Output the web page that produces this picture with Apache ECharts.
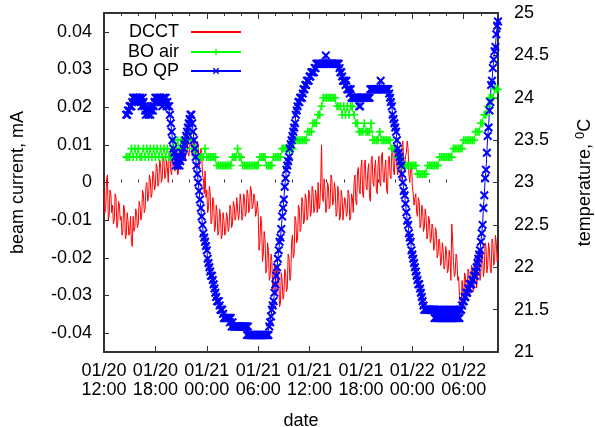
<!DOCTYPE html>
<html>
<head>
<meta charset="utf-8">
<script src="https://cdn.jsdelivr.net/npm/echarts@6/dist/echarts.min.js"></script>
<style>
  html, body { margin: 0; padding: 0; background: #fff; }
  #chart { width: 595px; height: 427px; }
</style>
</head>
<body>
<div id="chart"></div>
<script>
// time axis: hours since 01/20 12:00
const dateLabels = ['01/20\n12:00', '01/20\n18:00', '01/21\n00:00', '01/21\n06:00',
  '01/21\n12:00', '01/21\n18:00', '01/22\n00:00', '01/22\n06:00'];
const currentTicks = [-0.04, -0.03, -0.02, -0.01, 0, 0.01, 0.02, 0.03, 0.04];
const currentLabels = ['-0.04', '-0.03', '-0.02', '-0.01', '0', '0.01', '0.02', '0.03', '0.04'];
const legendNames = ['DCCT', 'BO air', 'BO QP'];

// DCCT beam current, mA (every 0.1 h from hour 0)
const dcctStart = 0, dcctStep = 0.1;
const dcct = [
  -0.002, -0.008, -0.007, 0.001, 0.002, -0.010, -0.009, -0.002, -0.003, -0.008,
  -0.006, -0.011, -0.010, -0.003, -0.004, -0.012, -0.011, -0.005, -0.006, -0.010,
  -0.009, -0.014, -0.013, -0.006, -0.007, -0.015, -0.014, -0.008, -0.010, -0.014,
  -0.013, -0.009, -0.016, -0.017, -0.009, -0.013, -0.012, -0.007, -0.008, -0.012,
  -0.011, -0.005, -0.006, -0.010, -0.009, -0.002, -0.003, -0.008, -0.007, -0.001,
  0.000, -0.005, -0.004, 0.002, 0.001, -0.004, -0.003, 0.003, 0.002, -0.002,
  -0.001, 0.005, 0.004, -0.001, 0.000, 0.006, 0.005, 0.000, 0.001, 0.007,
  0.006, 0.001, 0.002, 0.006, 0.004, 0.000, 0.007, 0.008, 0.003, 0.002,
  0.008, 0.009, 0.004, 0.003, 0.007, 0.008, 0.002, 0.003, 0.009, 0.010,
  0.006, 0.005, 0.010, 0.011, 0.007, 0.006, 0.011, 0.012, 0.008, 0.007,
  0.009, 0.013, 0.012, 0.007, 0.008, 0.012, 0.011, 0.006, 0.007, 0.011,
  0.010, 0.004, 0.005, 0.009, 0.008, 0.002, 0.001, -0.003, 0.003, -0.004,
  -0.002, -0.008, -0.007, -0.001, -0.003, -0.011, -0.010, -0.004, -0.005, -0.013,
  -0.012, -0.006, -0.008, -0.014, -0.013, -0.007, -0.009, -0.015, -0.014, -0.008,
  -0.010, -0.014, -0.013, -0.008, -0.009, -0.013, -0.012, -0.006, -0.007, -0.012,
  -0.011, -0.005, -0.006, -0.010, -0.009, -0.004, -0.004, -0.010, -0.008, -0.003,
  -0.005, -0.010, -0.009, -0.003, -0.004, -0.009, -0.008, -0.002, -0.003, -0.008,
  -0.007, -0.001, -0.002, -0.007, -0.006, -0.003, -0.004, -0.009, -0.008, -0.005,
  -0.008, -0.018, -0.016, -0.009, -0.011, -0.021, -0.019, -0.013, -0.015, -0.024,
  -0.023, -0.016, -0.018, -0.026, -0.025, -0.019, -0.021, -0.029, -0.027, -0.022,
  -0.023, -0.030, -0.029, -0.022, -0.025, -0.033, -0.032, -0.024, -0.026, -0.031,
  -0.030, -0.023, -0.024, -0.029, -0.028, -0.019, -0.020, -0.026, -0.025, -0.016,
  -0.014, -0.020, -0.019, -0.009, -0.010, -0.016, -0.015, -0.006, -0.007, -0.013,
  -0.012, -0.004, -0.005, -0.011, -0.010, -0.003, -0.004, -0.010, -0.009, -0.002,
  -0.003, -0.009, -0.008, -0.001, -0.002, -0.008, -0.007, -0.002, -0.004, -0.008,
  0.000, -0.007, -0.006, 0.000, 0.010, -0.004, -0.005, 0.001, -0.002, -0.008,
  -0.007, 0.000, -0.001, -0.007, -0.006, 0.002, 0.001, -0.006, -0.005, 0.000,
  -0.002, -0.009, -0.008, -0.001, -0.003, -0.010, -0.009, -0.002, -0.004, -0.010,
  -0.010, -0.004, -0.005, -0.009, -0.008, -0.002, -0.003, -0.010, -0.009, -0.003,
  -0.004, -0.008, 0.000, 0.002, -0.005, -0.006, 0.003, 0.004, -0.002, -0.003,
  0.004, 0.006, -0.003, -0.004, 0.005, 0.006, -0.001, -0.002, 0.003, 0.005,
  -0.004, -0.005, 0.006, 0.007, 0.000, -0.001, 0.004, 0.006, -0.002, -0.003,
  0.005, 0.007, 0.000, -0.001, 0.007, 0.008, 0.001, 0.000, 0.004, 0.006,
  -0.002, -0.003, 0.006, 0.007, 0.002, 0.001, 0.008, 0.009, 0.003, 0.002,
  0.009, 0.010, 0.004, 0.002, 0.007, 0.008, 0.002, 0.001, 0.010, 0.011,
  0.005, 0.003, 0.007, 0.008, 0.011, 0.009, 0.002, 0.000, 0.004, 0.005,
  -0.001, -0.003, -0.006, -0.004, -0.003, -0.008, -0.009, -0.004, -0.005, -0.012,
  -0.011, -0.006, -0.007, -0.013, -0.012, -0.007, -0.009, -0.015, -0.014, -0.009,
  -0.010, -0.016, -0.015, -0.011, -0.012, -0.018, -0.017, -0.012, -0.013, -0.020,
  -0.019, -0.015, -0.016, -0.022, -0.021, -0.016, -0.018, -0.023, -0.022, -0.017,
  -0.019, -0.024, -0.023, -0.018, -0.020, -0.026, -0.011, -0.015, -0.021, -0.025,
  -0.024, -0.019, -0.020, -0.026, -0.025, -0.030, -0.033, -0.034, -0.026, -0.029,
  -0.030, -0.024, -0.025, -0.031, -0.029, -0.023, -0.024, -0.030, -0.028, -0.022,
  -0.023, -0.029, -0.027, -0.020, -0.021, -0.028, -0.025, -0.019, -0.020, -0.026,
  -0.024, -0.018, -0.019, -0.025, -0.023, -0.016, -0.017, -0.024, -0.022, -0.016,
  -0.018, -0.023, -0.024, -0.015, -0.016, -0.022, -0.021, -0.014, -0.016, -0.021,
  -0.019
];

// BO air temperature, degC (every 0.2 h from hour 2.6)
const airStart = 2.6, airStep = 0.2;
const airTemp = [
  23.3, 23.3, 23.3, 23.4, 23.3, 23.4, 23.3,
  23.4, 23.3, 23.3, 23.4, 23.3, 23.4, 23.3, 23.4, 23.3, 23.4,
  23.3, 23.4, 23.3, 23.4, 23.3, 23.4, 23.3, 23.4, 23.3, 23.3,
  23.4, 23.5, 23.4, 23.5, 23.4, 23.5, 23.5, 23.4, 23.5, 23.5,
  23.6, 23.5, 23.4, 23.4, 23.3, 23.3, 23.3, 23.3, 23.3, 23.4,
  23.3, 23.3, 23.3, 23.3, 23.3, 23.3, 23.2, 23.2, 23.2, 23.2,
  23.2, 23.2, 23.2, 23.2, 23.2, 23.3, 23.3, 23.3, 23.4, 23.3,
  23.3, 23.2, 23.2, 23.2, 23.2, 23.2, 23.2, 23.2, 23.2, 23.2,
  23.2, 23.3, 23.3, 23.3, 23.3, 23.2, 23.2, 23.2, 23.2, 23.3,
  23.3, 23.3, 23.3, 23.3, 23.4, 23.4, 23.4, 23.4, 23.4, 23.4,
  23.4, 23.5, 23.5, 23.5, 23.5, 23.5, 23.5, 23.5, 23.5, 23.6,
  23.6, 23.6, 23.7, 23.7, 23.7, 23.8, 23.8, 23.9, 24.0, 24.0,
  24.0, 24.0, 24.0, 24.0, 24.0, 24.0, 23.9, 23.9, 23.9, 23.8,
  23.9, 23.8, 23.9, 23.8, 23.9, 23.9, 23.8, 23.7, 23.7, 23.6,
  23.6, 23.6, 23.7, 23.6, 23.6, 23.6, 23.7, 23.5, 23.5, 23.5,
  23.5, 23.6, 23.5, 23.5, 23.5, 23.5, 23.5, 23.5, 23.4, 23.4,
  23.4, 23.3, 23.3, 23.3, 23.2, 23.2, 23.2, 23.2, 23.2, 23.2,
  23.2, 23.2, 23.2, 23.1, 23.1, 23.1, 23.1, 23.1, 23.1, 23.2,
  23.2, 23.2, 23.2, 23.2, 23.2, 23.2, 23.3, 23.3, 23.3, 23.3,
  23.3, 23.3, 23.3, 23.3, 23.4, 23.4, 23.4, 23.4, 23.4, 23.4,
  23.5, 23.5, 23.5, 23.5, 23.5, 23.5, 23.5, 23.6, 23.6, 23.6,
  23.7, 23.7, 23.8, 23.8, 23.9, 24.0, 24.0, 24.0, 24.1, 24.1,
  24.1
];

// BO QP temperature, degC (every 0.1 h from hour 2.6)
const qpStart = 2.6, qpStep = 0.1;
const qpTemp = [
  23.80, 23.80, 23.85, 23.85,
  23.90, 23.90, 23.90, 23.95, 24.00, 24.00, 23.95, 24.00, 24.00, 24.00,
  23.95, 24.00, 24.00, 23.95, 23.90, 24.00, 23.95, 23.90, 23.85, 23.80,
  23.85, 23.90, 23.80, 23.85, 23.80, 23.85, 23.90, 23.85, 23.90, 23.95,
  24.00, 23.95, 24.00, 24.00, 23.95, 24.00, 24.00, 23.95, 23.90, 24.00,
  24.00, 23.95, 24.00, 23.90, 23.95, 23.90, 23.90, 23.80, 23.70, 23.60,
  23.50, 23.40, 23.35, 23.30, 23.20, 23.25, 23.20, 23.30, 23.20, 23.25,
  23.30, 23.35, 23.30, 23.40, 23.45, 23.50, 23.55, 23.60, 23.65, 23.70,
  23.75, 23.80, 23.80, 23.70, 23.60, 23.50, 23.40, 23.30, 23.20, 23.10,
  23.00, 22.90, 22.80, 22.70, 22.60, 22.50, 22.40, 22.35, 22.30, 22.25,
  22.20, 22.10, 22.05, 22.00, 21.95, 21.90, 21.90, 21.85, 21.80, 21.75,
  21.70, 21.65, 21.60, 21.60, 21.60, 21.55, 21.50, 21.50, 21.50, 21.45,
  21.40, 21.40, 21.40, 21.40, 21.40, 21.40, 21.40, 21.35, 21.40, 21.30,
  21.35, 21.30, 21.30, 21.30, 21.30, 21.30, 21.30, 21.30, 21.30, 21.30,
  21.30, 21.30, 21.30, 21.30, 21.30, 21.30, 21.30, 21.20, 21.30, 21.20,
  21.20, 21.20, 21.20, 21.20, 21.20, 21.20, 21.20, 21.20, 21.20, 21.20,
  21.20, 21.20, 21.20, 21.20, 21.20, 21.20, 21.20, 21.20, 21.20, 21.20,
  21.20, 21.20, 21.20, 21.30, 21.35, 21.42, 21.50, 21.55, 21.60, 21.70,
  21.80, 21.90, 22.00, 22.10, 22.20, 22.30, 22.35, 22.45, 22.60, 22.70,
  22.80, 22.95, 23.05, 23.15, 23.20, 23.25, 23.30, 23.40, 23.45, 23.50,
  23.55, 23.60, 23.65, 23.70, 23.80, 23.85, 23.90, 23.95, 23.95, 24.00,
  24.00, 24.00, 24.05, 24.10, 24.10, 24.15, 24.15, 24.20, 24.20, 24.20,
  24.25, 24.25, 24.30, 24.30, 24.30, 24.30, 24.35, 24.35, 24.40, 24.40,
  24.40, 24.40, 24.40, 24.40, 24.40, 24.40, 24.40, 24.40, 24.40, 24.50,
  24.40, 24.40, 24.40, 24.40, 24.40, 24.40, 24.40, 24.40, 24.40, 24.40,
  24.40, 24.40, 24.40, 24.40, 24.40, 24.35, 24.30, 24.30, 24.25, 24.20,
  24.20, 24.20, 24.15, 24.20, 24.10, 24.10, 24.10, 24.05, 24.10, 24.00,
  24.00, 24.00, 24.00, 24.00, 24.00, 24.00, 24.00, 24.00, 23.90, 23.90,
  24.00, 24.00, 24.00, 24.00, 24.00, 24.00, 24.00, 24.00, 24.00, 24.00,
  24.00, 24.10, 24.10, 24.10, 24.10, 24.10, 24.10, 24.10, 24.10, 24.10,
  24.10, 24.10, 24.10, 24.20, 24.10, 24.10, 24.10, 24.10, 24.10, 24.10,
  24.10, 24.10, 24.10, 24.05, 24.00, 23.95, 23.90, 23.80, 23.75, 23.70,
  23.65, 23.60, 23.50, 23.40, 23.35, 23.30, 23.25, 23.20, 23.10, 23.00,
  22.90, 22.85, 22.75, 22.65, 22.55, 22.50, 22.40, 22.35, 22.30, 22.20,
  22.15, 22.10, 22.05, 22.00, 21.95, 21.90, 21.85, 21.80, 21.80, 21.75,
  21.70, 21.65, 21.60, 21.55, 21.50, 21.50, 21.50, 21.50, 21.50, 21.50,
  21.50, 21.50, 21.50, 21.50, 21.50, 21.50, 21.40, 21.50, 21.40, 21.40,
  21.50, 21.40, 21.40, 21.50, 21.40, 21.40, 21.50, 21.40, 21.40, 21.50,
  21.40, 21.40, 21.50, 21.40, 21.40, 21.50, 21.40, 21.40, 21.50, 21.40,
  21.40, 21.50, 21.40, 21.40, 21.50, 21.40, 21.50, 21.50, 21.55, 21.60,
  21.60, 21.65, 21.65, 21.70, 21.70, 21.75, 21.75, 21.80, 21.80, 21.80,
  21.85, 21.85, 21.90, 21.90, 21.95, 22.00, 22.05, 22.10, 22.15, 22.20,
  22.30, 22.40, 22.50, 22.70, 22.85, 23.05, 23.15, 23.35, 23.55, 23.65,
  23.85, 23.95, 24.15, 24.20, 24.35, 24.45, 24.55, 24.60, 24.75, 24.85,
  24.90
];

const font = 'Liberation Sans, Arial, Helvetica, sans-serif';
const frameColor = '#333';
const frameLine = { show: true, onZero: false, lineStyle: { color: frameColor, width: 2 } };
const plusIcon = 'path://M3.2,0H4.8V3.2H8V4.8H4.8V8H3.2V4.8H0V3.2H3.2Z';
const crossIcon = 'path://M0,1.3L1.3,0L4,2.7L6.7,0L8,1.3L5.3,4L8,6.7L6.7,8L4,5.3L1.3,8L0,6.7L2.7,4Z';

const toPairs = (vals, start, step) =>
  vals.map((v, i) => [Math.round((start + i * step) * 1000) / 1000, v]);

// minor ticks every 2 h, majors every 6 h
const minorHours = [];
for (let h = 2; h < 46; h += 2) if (h % 6 !== 0) minorHours.push(h);

const xBase = {
  type: 'value', min: 0, max: 46,
  axisLine: { show: false }, splitLine: { show: false }
};

const chart = echarts.init(document.getElementById('chart'));
chart.setOption({
  animation: false,
  textStyle: { fontFamily: font },
  grid: {
    left: 104, right: 97, top: 13, bottom: 75,
    containLabel: false, outerBoundsMode: 'none'
  },
  legend: legendNames.map((n, i) => ({
    data: [n],
    right: 348,
    top: [18, 38, 57][i],
    align: 'right',
    itemWidth: 50,
    itemHeight: 8,
    selectedMode: false,
    itemStyle: i === 0 ? { opacity: 0 } : {},
    textStyle: { fontSize: 18, fontFamily: font, color: '#000', padding: [0, 7, 0, 0] }
  })),
  xAxis: [
    {
      ...xBase, position: 'bottom', interval: 6, axisLine: frameLine,
      axisTick: { inside: true, length: 6, lineStyle: { color: frameColor } },
      axisLabel: {
        fontSize: 18, lineHeight: 19, margin: 10, color: '#000', fontFamily: font,
        showMaxLabel: false,
        formatter: v => {
          const i = v / 6;
          return Number.isInteger(i) && dateLabels[i] ? dateLabels[i] : '';
        }
      },
      name: 'date', nameLocation: 'middle', nameGap: 60,
      nameTextStyle: { fontSize: 18, color: '#000', fontFamily: font }
    },
    {
      ...xBase, position: 'bottom',
      axisTick: { inside: true, length: 3, customValues: minorHours, lineStyle: { color: frameColor } },
      axisLabel: { show: false }
    },
    {
      ...xBase, position: 'top', interval: 6, axisLine: frameLine,
      axisTick: { inside: true, length: 6, lineStyle: { color: frameColor } },
      axisLabel: { show: false }
    },
    {
      ...xBase, position: 'top',
      axisTick: { inside: true, length: 3, customValues: minorHours, lineStyle: { color: frameColor } },
      axisLabel: { show: false }
    }
  ],
  yAxis: [
    {
      type: 'value', min: -0.045, max: 0.045, position: 'left',
      axisLine: frameLine, splitLine: { show: false },
      axisTick: { inside: true, length: 5, customValues: currentTicks, lineStyle: { color: frameColor } },
      axisLabel: {
        customValues: currentTicks, margin: 12, fontSize: 18, color: '#000', fontFamily: font,
        formatter: v => {
          const i = currentTicks.findIndex(t => Math.abs(t - v) < 1e-9);
          return i >= 0 ? currentLabels[i] : '';
        }
      },
      name: 'beam current, mA', nameLocation: 'middle', nameGap: 77, nameRotate: 90,
      nameTextStyle: { fontSize: 18, color: '#000', fontFamily: font }
    },
    {
      type: 'value', min: 21, max: 25, interval: 0.5, position: 'right',
      axisLine: frameLine, splitLine: { show: false },
      axisTick: { inside: true, length: 5, lineStyle: { color: frameColor } },
      axisLabel: { margin: 16, fontSize: 18, color: '#000', fontFamily: font },
      name: 'temperature, {sup|0}C', nameLocation: 'middle', nameGap: 76, nameRotate: 90,
      nameTextStyle: {
        fontSize: 18, color: '#000', fontFamily: font, lineHeight: 22,
        rich: { sup: { fontSize: 13, verticalAlign: 'top', lineHeight: 22, color: '#000', fontFamily: font } }
      }
    }
  ],
  series: [
    {
      name: 'DCCT', type: 'line', xAxisIndex: 0, yAxisIndex: 0,
      data: toPairs(dcct, dcctStart, dcctStep),
      symbol: 'none', showSymbol: false,
      lineStyle: { color: '#ff0000', width: 1 }, itemStyle: { color: '#ff0000' }
    },
    {
      name: 'BO air', type: 'line', xAxisIndex: 0, yAxisIndex: 1,
      data: toPairs(airTemp, airStart, airStep),
      symbol: plusIcon, symbolSize: 8, showSymbol: true,
      lineStyle: { color: '#00ff00', width: 1 }, itemStyle: { color: '#00ff00' }
    },
    {
      name: 'BO QP', type: 'line', xAxisIndex: 0, yAxisIndex: 1,
      data: toPairs(qpTemp, qpStart, qpStep),
      symbol: crossIcon, symbolSize: 9, showSymbol: true,
      lineStyle: { color: '#0000ff', width: 1 }, itemStyle: { color: '#0000ff' }
    }
  ]
});
</script>
</body>
</html>
